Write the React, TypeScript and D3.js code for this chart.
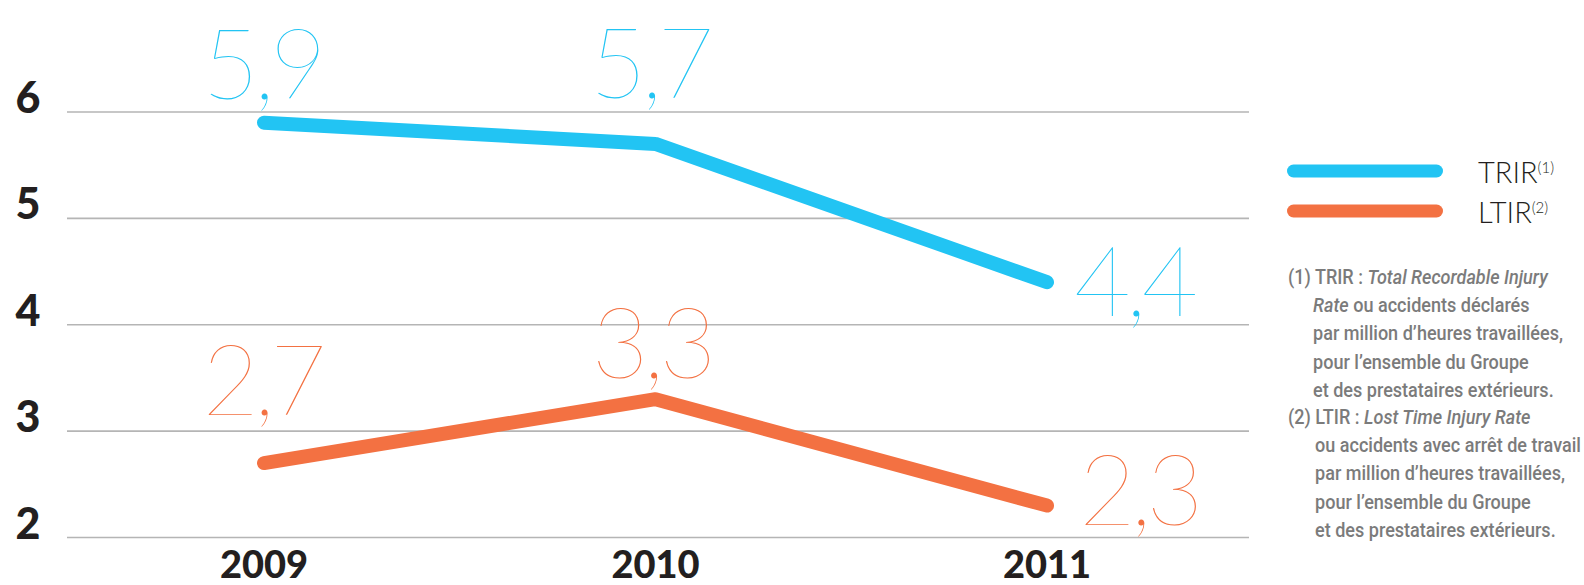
import React, { useEffect, useRef } from 'react';
import * as d3 from 'd3';

const years = ['2009', '2010', '2011'];
const trir = [5.9, 5.7, 4.4];
const ltir = [2.7, 3.3, 2.3];
const yTicks = [2, 3, 4, 5, 6];
const legendLabels = ['TRIR', 'LTIR'];
const legendNotes = ['(1)', '(2)'];

// footnote lines: [text, italic?][]
const notes1 = [
  [['(1) TRIR : ', false], ['Total Recordable Injury', true]],
  [['Rate', true], [' ou accidents déclarés', false]],
  [['par million d’heures travaillées,', false]],
  [['pour l’ensemble du Groupe', false]],
  [['et des prestataires extérieurs.', false]],
];
const notes2 = [
  [['(2) LTIR : ', false], ['Lost Time Injury Rate', true]],
  [['ou accidents avec arrêt de travail', false]],
  [['par million d’heures travaillées,', false]],
  [['pour l’ensemble du Groupe', false]],
  [['et des prestataires extérieurs.', false]],
];

const BLUE = '#22c4f3';
const ORANGE = '#f37142';

const App: React.FC = () => {
  const svgRef = useRef<SVGSVGElement | null>(null);

  useEffect(() => {
    const svg = d3.select(svgRef.current);
    const width = 1584;
    const height = 585;
    svg.selectAll('*').remove();

    const xScale = d3.scalePoint<string>().domain(years).range([264, 1047]);
    const yScale = d3.scaleLinear().domain([2, 6]).range([537.5, 112]);

    svg.append('rect').attr('width', width).attr('height', height).attr('fill', '#fff');

    // gridlines
    svg
      .append('g')
      .selectAll('line')
      .data(yTicks)
      .join('line')
      .attr('x1', 67)
      .attr('x2', 1249)
      .attr('y1', (d) => yScale(d))
      .attr('y2', (d) => yScale(d))
      .attr('stroke', '#b5b5b5')
      .attr('stroke-width', 1.6);

    // y labels
    svg
      .append('g')
      .selectAll('text')
      .data(yTicks)
      .join('text')
      .attr('x', 28)
      .attr('y', (d) => yScale(d) + 1)
      .attr('text-anchor', 'middle')
      .attr('font-family', 'Lato, sans-serif')
      .attr('font-weight', 900)
      .attr('font-size', 43)
      .attr('fill', '#231f20')
      .text((d) => d);

    // year labels
    svg
      .append('g')
      .selectAll('text')
      .data(years)
      .join('text')
      .attr('x', (d) => xScale(d)!)
      .attr('y', 578)
      .attr('text-anchor', 'middle')
      .attr('font-family', 'Lato, sans-serif')
      .attr('font-weight', 900)
      .attr('font-size', 38)
      .attr('fill', '#231f20')
      .text((d) => d);

    const series = [
      { values: trir, color: BLUE, offsets: [[-2, -24, 'middle'], [-6, -46, 'middle'], [27, 34, 'start']] },
      { values: ltir, color: ORANGE, offsets: [[-2, -48, 'middle'], [-4, -21, 'middle'], [32, 19, 'start']] },
    ];

    const line = d3
      .line<number>()
      .x((_, i) => xScale(years[i])!)
      .y((d) => yScale(d));

    series.forEach((s) => {
      svg
        .append('path')
        .datum(s.values)
        .attr('d', line)
        .attr('fill', 'none')
        .attr('stroke', s.color)
        .attr('stroke-width', 14)
        .attr('stroke-linecap', 'round')
        .attr('stroke-linejoin', 'round');

      svg
        .append('g')
        .selectAll('text')
        .data(s.values)
        .join('text')
        .attr('x', (d, i) => xScale(years[i])! + (s.offsets[i][0] as number))
        .attr('y', (d, i) => yScale(d) + (s.offsets[i][1] as number))
        .attr('text-anchor', (d, i) => s.offsets[i][2] as string)
        .attr('font-family', 'Lato, sans-serif')
        .attr('font-weight', 200)
        .attr('font-size', 98)
        .attr('letter-spacing', -5)
        .attr('fill', s.color)
        .text((d) => d.toFixed(1).replace('.', ','));
    });

    // legend
    const legend = svg.append('g');
    const legendY = d3.scalePoint<string>().domain(legendLabels).range([171, 211]);
    legendLabels.forEach((lab, i) => {
      const y = legendY(lab)!;
      legend
        .append('line')
        .attr('x1', 1293.5)
        .attr('x2', 1436.5)
        .attr('y1', y)
        .attr('y2', y)
        .attr('stroke', i === 0 ? BLUE : ORANGE)
        .attr('stroke-width', 13)
        .attr('stroke-linecap', 'round');
      const t = legend
        .append('text')
        .attr('x', 1478)
        .attr('y', y + 12)
        .attr('font-family', 'Lato, sans-serif')
        .attr('font-weight', 300)
        .attr('font-size', 29)
        .attr('fill', '#231f20')
        .text(lab);
      t.append('tspan')
        .attr('dy', -10)
        .attr('font-size', 15)
        .text(legendNotes[i]);
    });

    // footnotes
    const notes = svg.append('g').attr('fill', '#7b7b7b');
    const drawNotes = (lines: any[], firstX: number, indentX: number, startY: number) => {
      lines.forEach((parts, i) => {
        const x = i === 0 ? firstX : indentX;
        const y = startY + i * 28.2;
        const t = notes
          .append('text')
          .attr('transform', `translate(${x},${y}) scale(0.86,1)`)
          .attr('font-family', 'Roboto, sans-serif')
          .attr('font-weight', 500)
          .attr('font-size', 21);
        parts.forEach((p: any) => {
          t.append('tspan')
            .attr('font-style', p[1] ? 'italic' : 'normal')
            .text(p[0]);
        });
      });
    };
    drawNotes(notes1, 1288, 1313, 284);
    drawNotes(notes2, 1288, 1315, 424);
  }, []);

  return (
    <svg
      ref={svgRef}
      width={1584}
      height={585}
      style={{ position: 'absolute', left: 0, top: 0 }}
    ></svg>
  );
};

export default App;
